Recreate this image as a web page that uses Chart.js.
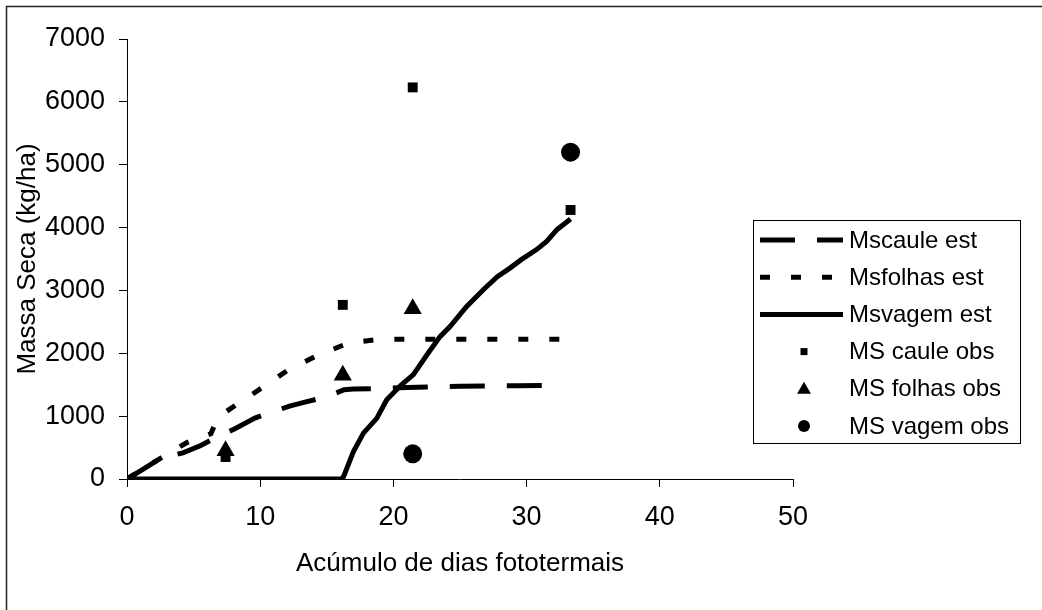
<!DOCTYPE html>
<html>
<head>
<meta charset="utf-8">
<script src="https://cdn.jsdelivr.net/npm/chart.js@4.4.1/dist/chart.umd.min.js"></script>
<style>
  html, body { margin: 0; padding: 0; background: #fff; }
</style>
</head>
<body>
<canvas id="massaChart" width="1042" height="610"></canvas>
<script>
// axis ticks
const xTicks = [0, 10, 20, 30, 40, 50]
const yTicks = [0, 1000, 2000, 3000, 4000, 5000, 6000, 7000]

// simulated (est) curves
const cauleEstX = [0, 1.1, 2.6, 4.2, 5.5, 6.6, 8.1, 9.6, 10.7, 12.2, 13.5, 15.0, 16.3, 17.0, 19.0, 21.0, 23.0, 25.0, 27.6, 29.3, 31.9]
const cauleEstY = [0, 140, 340, 415, 530, 650, 800, 970, 1050, 1160, 1230, 1310, 1420, 1430, 1440, 1455, 1465, 1475, 1480, 1485, 1490]

const folhasEstX = [0, 2.6, 4.5, 5.0, 6.3, 6.7, 7.3, 8.2, 10.2, 12.2, 14.4, 16.6, 18.8, 21.0, 25.0, 29.0, 33.1]
const folhasEstY = [0, 340, 580, 620, 720, 920, 1050, 1180, 1460, 1750, 1975, 2160, 2220, 2225, 2225, 2225, 2225]

const vagemEstX = [0, 16.1, 16.25, 17.0, 17.75, 18.75, 19.5, 20.6, 21.5, 22.6, 23.5, 24.25, 25.5, 26.75, 27.8, 28.75, 29.6, 30.75, 31.5, 32.3, 33.3]
const vagemEstY = [0, 0, 35, 435, 730, 965, 1260, 1500, 1660, 2000, 2265, 2425, 2745, 3010, 3220, 3355, 3490, 3650, 3780, 3970, 4135]

// observed points
const cauleObsX = [7.4, 16.2, 21.45, 33.3]
const cauleObsY = [350, 2770, 6230, 4280]
const folhasObsX = [7.4, 16.2, 21.45]
const folhasObsY = [450, 1650, 2710]
const vagemObsX = [21.45, 33.3]
const vagemObsY = [400, 5200]

const toXY = (xs, ys) => xs.map((x, i) => ({ x: x, y: ys[i] }))

const FONT = '"Liberation Sans", Arial, sans-serif'

// legend with a border, drawn like the spreadsheet one
const boxLegend = {
  id: 'boxLegend',
  afterDraw(chart) {
    const ctx = chart.ctx
    ctx.save()
    // outer chart border (only top and left show in the crop)
    ctx.strokeStyle = '#222'
    ctx.lineWidth = 1.5
    ctx.beginPath()
    ctx.moveTo(6.5, 610)
    ctx.lineTo(6.5, 6.5)
    ctx.lineTo(1042, 6.5)
    ctx.stroke()

    ctx.lineWidth = 1
    ctx.strokeStyle = '#000'
    ctx.strokeRect(753.5, 220.5, 267, 223)

    ctx.font = '24px ' + FONT
    ctx.textBaseline = 'middle'
    ctx.fillStyle = '#000'
    chart.data.datasets.forEach((ds, i) => {
      const y = 240 + i * 37.2
      if (ds.showLine) {
        ctx.save()
        ctx.lineWidth = 5
        ctx.setLineDash(ds.borderDash || [])
        ctx.beginPath()
        ctx.moveTo(760, y)
        ctx.lineTo(843, y)
        ctx.stroke()
        ctx.restore()
      } else {
        const cx = 804
        ctx.beginPath()
        if (ds.pointStyle === 'rect') {
          ctx.rect(cx - 3.5, y - 3.5, 7, 7)
        } else if (ds.pointStyle === 'triangle') {
          ctx.moveTo(cx, y - 7)
          ctx.lineTo(cx + 7, y + 5)
          ctx.lineTo(cx - 7, y + 5)
          ctx.closePath()
        } else {
          ctx.arc(cx, y, 6, 0, Math.PI * 2)
        }
        ctx.fill()
      }
      ctx.fillText(ds.label, 849, y + 1)
    })
    ctx.restore()
  }
}

new Chart(document.getElementById('massaChart'), {
  type: 'scatter',
  data: {
    datasets: [
      { label: 'Mscaule est', data: toXY(cauleEstX, cauleEstY), showLine: true, borderColor: '#000', borderWidth: 5, borderDash: [35, 22], pointRadius: 0, order: 5 },
      { label: 'Msfolhas est', data: toXY(folhasEstX, folhasEstY), showLine: true, borderColor: '#000', borderWidth: 5, borderDash: [10, 21], pointRadius: 0, order: 4 },
      { label: 'Msvagem est', data: toXY(vagemEstX, vagemEstY), showLine: true, borderColor: '#000', borderWidth: 5, pointRadius: 0, order: 3 },
      { label: 'MS caule obs', data: toXY(cauleObsX, cauleObsY), showLine: false, pointStyle: 'rect', pointRadius: 7, backgroundColor: '#000', borderWidth: 0, order: 2 },
      { label: 'MS folhas obs', data: toXY(folhasObsX, folhasObsY), showLine: false, pointStyle: 'triangle', pointRadius: 10.5, backgroundColor: '#000', borderWidth: 0, order: 1 },
      { label: 'MS vagem obs', data: toXY(vagemObsX, vagemObsY), showLine: false, pointStyle: 'circle', pointRadius: 9.5, backgroundColor: '#000', borderWidth: 0, order: 0 }
    ]
  },
  options: {
    responsive: false,
    animation: false,
    layout: { padding: { left: 7, top: 39, right: 249, bottom: 0 } },
    plugins: {
      legend: { display: false },
      tooltip: { enabled: false }
    },
    scales: {
      x: {
        type: 'linear',
        min: 0,
        max: 50,
        afterBuildTicks: (scale) => { scale.ticks = xTicks.map(v => ({ value: v })) },
        afterFit: (scale) => { scale.height = 131 },
        grid: { drawOnChartArea: false, color: '#000', tickLength: 8 },
        border: { color: '#000', width: 1 },
        ticks: { color: '#000', padding: 14, maxRotation: 0, font: { family: FONT, size: 27 }, callback: (v) => String(v) },
        title: { display: true, text: 'Acúmulo de dias fototermais', color: '#000', padding: { bottom: 31 }, font: { family: FONT, size: 26 } }
      },
      y: {
        type: 'linear',
        min: 0,
        max: 7000,
        afterBuildTicks: (scale) => { scale.ticks = yTicks.map(v => ({ value: v })) },
        afterFit: (scale) => { scale.width = 120 },
        grid: { drawOnChartArea: false, color: '#000', tickLength: 8 },
        border: { color: '#000', width: 1 },
        ticks: { color: '#000', padding: 14, font: { family: FONT, size: 27 }, callback: (v) => String(v) },
        title: { display: true, text: 'Massa Seca (kg/ha)', color: '#000', padding: { top: 5 }, font: { family: FONT, size: 26 } }
      }
    }
  },
  plugins: [boxLegend]
})
</script>
</body>
</html>
